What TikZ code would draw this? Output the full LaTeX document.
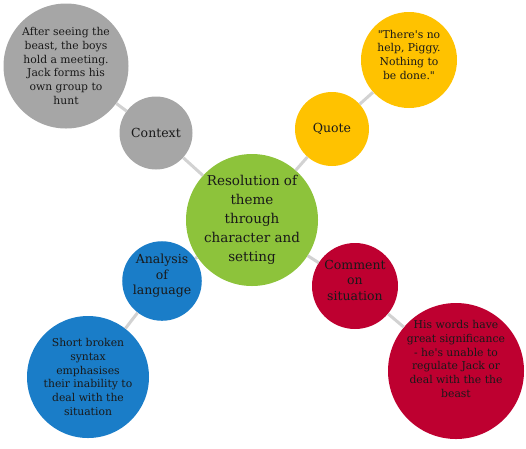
\documentclass[tikz,border=0pt]{standalone}
\usepackage{fontspec}
\setmainfont{DejaVu Serif}
\usetikzlibrary{positioning}

\definecolor{ctxgray}{HTML}{A6A6A6}
\definecolor{midgreen}{HTML}{8DC33B}
\definecolor{quoteyellow}{HTML}{FFC200}
\definecolor{langblue}{HTML}{1A7DC8}
\definecolor{commred}{HTML}{BE0030}
\definecolor{linkgray}{HTML}{D2D2D2}

\begin{document}
\begin{tikzpicture}[
    x=1pt, y=-1pt,
    bubble/.style={circle, inner sep=0pt, align=center, text=black!90},
    hub/.style={bubble, fill=midgreen, minimum size=132pt, font=\fontsize{13.5}{19}\selectfont},
    topic/.style={bubble, font=\fontsize{12.5}{15.5}\selectfont},
    detail/.style={bubble, font=\fontsize{10.8}{13.7}\selectfont},
    detailtext/.style={align=center, inner sep=0pt, text=black!90, font=\fontsize{10.8}{13.7}\selectfont},
    link/.style={draw=linkgray, line width=3pt}
]
\useasboundingbox (0,0) rectangle (526,448);

% Centre
\node[hub] (hub) at (252,220) {Resolution of\\theme\\through\\character and\\setting};

% Topics
\node[topic, fill=ctxgray, minimum size=73pt] (context) at (156,133) {Context};
\node[topic, fill=quoteyellow, minimum size=74pt] (quote) at (332,129) {Quote};
\node[topic, fill=langblue, minimum size=79pt] (analysis) at (162,281) {Analysis\\of\\language\\[-2pt]};
\node[topic, fill=commred, minimum size=86pt] (comment) at (355,286) {Comment\\on\\situation\\[-4pt]};

% Details
\node[detail, fill=ctxgray, minimum size=125pt] (ctxtext) at (66,66)
    {After seeing the\\beast, the boys\\hold a meeting.\\Jack forms his\\own group to\\hunt};
\node[detail, fill=quoteyellow, minimum size=96pt] (quotetext) at (409,60)
    {\textquotedbl There\textquotesingle s no\\help, Piggy.\\Nothing to\\be done.\textquotedbl\\[-3pt]};
\node[detail, fill=langblue, minimum size=122pt] (langtext) at (88,377)
    {Short broken\\syntax\\emphasises\\their inability to\\deal with the\\situation};
\node[detail, fill=commred, minimum size=136pt,
    label={[detailtext, yshift=12pt]center:His words have\\great significance\\- he\textquotesingle s unable to\\regulate Jack or\\deal with the the\\beast}]
    (commtext) at (456,371) {};

% Links
\draw[link] (hub) -- (context);
\draw[link] (context) -- (ctxtext);
\draw[link] (hub) -- (quote);
\draw[link] (quote) -- (quotetext);
\draw[link] (hub) -- (analysis);
\draw[link] (analysis) -- (langtext);
\draw[link] (hub) -- (comment);
\draw[link] (comment) -- (commtext);

\end{tikzpicture}
\end{document}
